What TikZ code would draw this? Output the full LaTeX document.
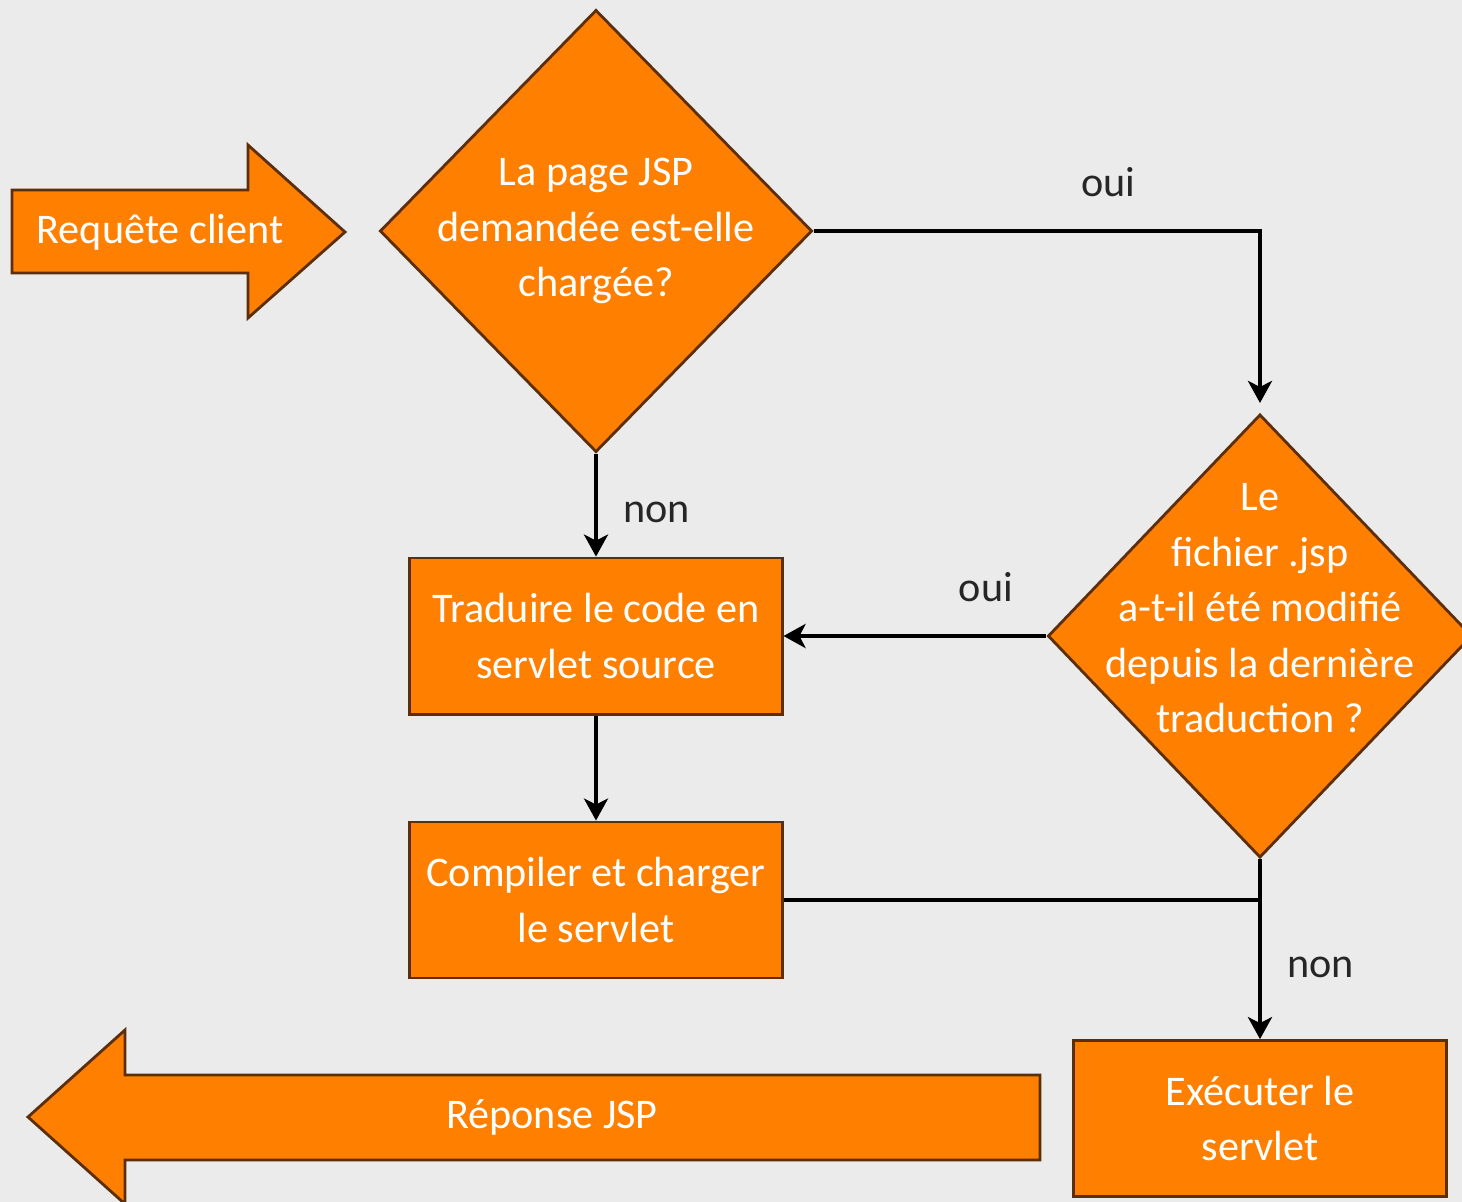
\documentclass[tikz,border=0pt]{standalone}
\usepackage{fontspec}
\setmainfont{Carlito}
\usetikzlibrary{shapes.geometric, arrows.meta, positioning, calc}
\definecolor{bgray}{HTML}{EBEBEB}
\definecolor{jsporange}{HTML}{FF8000}
\definecolor{jspedge}{HTML}{5C2E0A}

\begin{document}
\begin{tikzpicture}[x=0.01cm, y=-0.01cm, font=\fontsize{12}{15.8}\selectfont]
    % Styles
    \tikzstyle{block} = [rectangle, draw=jspedge, fill=jsporange, text=white, line width=0.8pt, minimum width=3.72cm, minimum height=1.56cm, align=center]
    \tikzstyle{decision} = [diamond, draw=jspedge, fill=jsporange, text=white, line width=0.8pt, minimum width=4.32cm, minimum height=4.42cm, inner xsep=-1.2cm, inner ysep=0pt, align=center]
    \tikzstyle{bigarrow} = [draw=jspedge, fill=jsporange, line width=0.8pt]
    \tikzstyle{line} = [draw, -{Stealth[length=2.2mm, width=2.4mm, inset=0.6mm]}, line width=1.3pt]
    \tikzstyle{lbl} = [text=black!85]

    % --- BACKGROUND ---
    \fill[bgray] (0,0) rectangle (1462,1202);
    \useasboundingbox (0,0) rectangle (1462,1202);

    % --- ENTRY / EXIT ARROWS ---
    \path[bigarrow] (12,190) -- (248,190) -- (248,145) -- (345,232) -- (248,318) -- (248,273) -- (12,273) -- cycle;
    \node[text=white] (req) at (160,232) {Requête client};
    \path[bigarrow] (1040,1075) -- (125,1075) -- (125,1030) -- (28,1117) -- (125,1204) -- (125,1160) -- (1040,1160) -- cycle;
    \node[text=white] (rep) at (552,1117) {Réponse JSP};

    % --- DECISIONS & STEPS ---
    \node[decision] (loaded) at (596,231) {La page JSP\\demandée est-elle\\chargée?};
    \node[block, below=1.03cm of loaded] (trad) {Traduire le code en\\servlet source};
    \node[block, below=1.05cm of trad] (comp) {Compiler et charger\\le servlet};
    \node[decision, minimum width=4.24cm, minimum height=4.43cm] (modif) at (1260,636) {Le\\fichier .jsp\\a-t-il été modifié\\depuis la dernière\\traduction ?\\ \mbox{}};
    \node[block, below=1.8cm of modif] (exec) {Exécuter le\\servlet};
    \coordinate (join) at (modif.south |- comp.east);

    % --- CONNECTIONS ---
    \path [line, shorten >=1mm] (loaded.east) -| node[lbl, pos=0.33, above=0.2cm] {oui} (modif.north);
    \path [line] (loaded.south) -- node[lbl, pos=0.57, right=0.13cm] {non} (trad.north);
    \path [line] (modif.west) -- node[lbl, pos=0.23, above=0.2cm] {oui} (modif.west -| trad.east);
    \path [line] (trad) -- (comp);
    \draw [line width=1.3pt] (comp.east) -- (join);
    \path [line] (modif.south) -- node[lbl, pos=0.6, right=0.13cm] {non} (exec.north);

\end{tikzpicture}
\end{document}
